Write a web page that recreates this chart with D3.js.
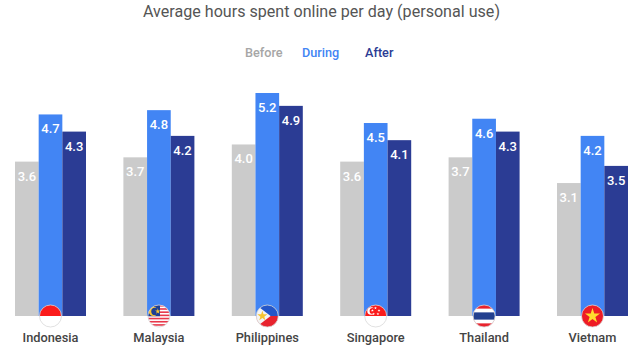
<!DOCTYPE html>
<html lang="en">
<head>
<meta charset="UTF-8"/>
<title>Average hours spent online per day</title>
<script src="https://d3js.org/d3.v7.min.js"></script>
<style>
	html, body { margin: 0; padding: 0; background: #fff; }
	svg { display: block; }
	text { font-family: Roboto, "Open Sans", sans-serif; }
</style>
</head>
<body>
<script>
	var countries = ["Indonesia", "Malaysia", "Philippines", "Singapore", "Thailand", "Vietnam"];
	var periods = ["Before", "During", "After"];
	var before = [3.6, 3.7, 4.0, 3.6, 3.7, 3.1];
	var during = [4.7, 4.8, 5.2, 4.5, 4.6, 4.2];
	var after = [4.3, 4.2, 4.9, 4.1, 4.3, 3.5];
	var colors = ["#cbcbcb", "#4285f4", "#2b3c94"];

	var w = 639;
	var h = 352;
	var baseline = 316;
	var flagR = 11;

	var rows = [before, during, after];

	var svg = d3.select("body")
				.append("svg")
				.attr("width", w)
				.attr("height", h);

	//one band per country, inner band per period
	var xScale = d3.scaleBand()
					.domain(countries)
					.range([15, 628])
					.paddingInner(0.345);

	var xInner = d3.scaleBand()
					.domain(periods)
					.range([0, xScale.bandwidth()]);

	var yScale = d3.scaleLinear()
					.domain([0, 5.2])
					.range([baseline, 93]);

	//title
	svg.append("text")
		.attr("x", 321.5)
		.attr("y", 17)
		.attr("text-anchor", "middle")
		.attr("font-size", 16.1)
		.attr("fill", "#555")
		.text("Average hours spent online per day (personal use)");

	//legend
	var legendX = d3.scaleOrdinal().domain(periods).range([245, 302, 365]);
	svg.selectAll(".legend")
		.data(periods)
		.enter()
		.append("text")
		.attr("class", "legend")
		.attr("x", function(d) { return legendX(d); })
		.attr("y", 57)
		.attr("font-size", 12.7)
		.attr("font-weight", 500)
		.attr("fill", function(d, i) { return i == 0 ? "#a6a6a6" : colors[i]; })
		.text(function(d) { return d; });

	//bars and value labels
	var groups = svg.selectAll(".country")
		.data(countries)
		.enter()
		.append("g")
		.attr("class", "country")
		.attr("transform", function(d) { return "translate(" + xScale(d) + ",0)"; });

	groups.each(function(c, ci) {
		var g = d3.select(this);
		var vals = periods.map(function(p, pi) { return { period: p, pi: pi, value: rows[pi][ci] }; });

		g.selectAll("rect")
			.data(vals)
			.enter()
			.append("rect")
			.attr("x", function(d) { return xInner(d.period); })
			.attr("y", function(d) { return yScale(d.value); })
			.attr("width", xInner.bandwidth())
			.attr("height", function(d) { return baseline - yScale(d.value); })
			.attr("fill", function(d) { return colors[d.pi]; });

		g.selectAll(".value")
			.data(vals)
			.enter()
			.append("text")
			.attr("class", "value")
			.attr("x", function(d) { return xInner(d.period) + xInner.bandwidth() / 2; })
			.attr("y", function(d) { return yScale(d.value) + 19; })
			.attr("text-anchor", "middle")
			.attr("font-size", 13)
			.attr("font-weight", 500)
			.attr("fill", "#fff")
			.text(function(d) { return d.value.toFixed(1); });
	});

	//country names
	groups.append("text")
		.attr("x", xScale.bandwidth() / 2)
		.attr("y", 342)
		.attr("text-anchor", "middle")
		.attr("font-size", 12.8)
		.attr("font-weight", 500)
		.attr("fill", "#444")
		.text(function(d) { return d; });

	//flags, drawn in a box of -1..1 around the circle centre
	var defs = svg.append("defs");
	defs.append("clipPath")
		.attr("id", "flagClip")
		.append("circle")
		.attr("r", flagR);

	function band(f, y0, y1, color, x0, x1) {
		x0 = x0 === undefined ? -1 : x0;
		x1 = x1 === undefined ? 1 : x1;
		f.append("rect")
			.attr("x", x0 * flagR)
			.attr("y", y0 * flagR)
			.attr("width", (x1 - x0) * flagR)
			.attr("height", (y1 - y0) * flagR)
			.attr("fill", color);
	}

	function star(f, x, y, area, color) {
		f.append("path")
			.attr("d", d3.symbol().type(d3.symbolStar).size(area)())
			.attr("transform", "translate(" + x * flagR + "," + y * flagR + ")")
			.attr("fill", color);
	}

	function crescent(f, x, y, r, color, bg) {
		f.append("circle").attr("cx", x * flagR).attr("cy", y * flagR).attr("r", r).attr("fill", color);
		f.append("circle").attr("cx", (x + 0.14) * flagR).attr("cy", y * flagR).attr("r", r * 0.8).attr("fill", bg);
	}

	var drawFlag = {
		Indonesia: function(f) {
			band(f, -1, 0, "#fb1b1b");
			band(f, 0, 1, "#fff");
		},
		Malaysia: function(f) {
			band(f, -1, 1, "#fff");
			d3.range(-1, 1, 0.29).forEach(function(y) { band(f, y, y + 0.145, "#e8374a"); });
			band(f, -1, 0.02, "#1d3f93", -1, 0.1);
			crescent(f, -0.5, -0.42, 4.6, "#f7c531", "#1d3f93");
			star(f, -0.1, -0.42, 9, "#f7c531");
		},
		Philippines: function(f) {
			band(f, -1, 0, "#2456c8");
			band(f, 0, 1, "#e8232e");
			f.append("path")
				.attr("d", d3.line()([[-flagR, -flagR], [0.3 * flagR, 0], [-flagR, flagR]]) + "Z")
				.attr("fill", "#f4f4f4");
			star(f, -0.45, 0, 32, "#f7c531");
		},
		Singapore: function(f) {
			band(f, -1, 0, "#fb1b1b");
			band(f, 0, 1, "#fff");
			crescent(f, -0.42, -0.45, 3.8, "#fff", "#fb1b1b");
			[[-0.02, -0.72], [0.3, -0.5], [0.2, -0.18], [-0.2, -0.18], [-0.3, -0.5]].forEach(function(p) {
				star(f, p[0], p[1], 2.5, "#fff");
			});
		},
		Thailand: function(f) {
			band(f, -1, 1, "#e8232e");
			band(f, -0.67, 0.67, "#fff");
			band(f, -0.33, 0.33, "#23408f");
		},
		Vietnam: function(f) {
			band(f, -1, 1, "#ee1c25");
			star(f, 0, 0, 70, "#ffdc2e");
		}
	};

	groups.each(function(c) {
		var f = d3.select(this).append("g")
			.attr("transform", "translate(" + xScale.bandwidth() / 2 + "," + baseline + ")");
		var inner = f.append("g").attr("clip-path", "url(#flagClip)");
		drawFlag[c](inner);
		f.append("circle")
			.attr("r", flagR)
			.attr("fill", "none")
			.attr("stroke", "#d8d8d8")
			.attr("stroke-width", 0.8);
	});
</script>
</body>
</html>
